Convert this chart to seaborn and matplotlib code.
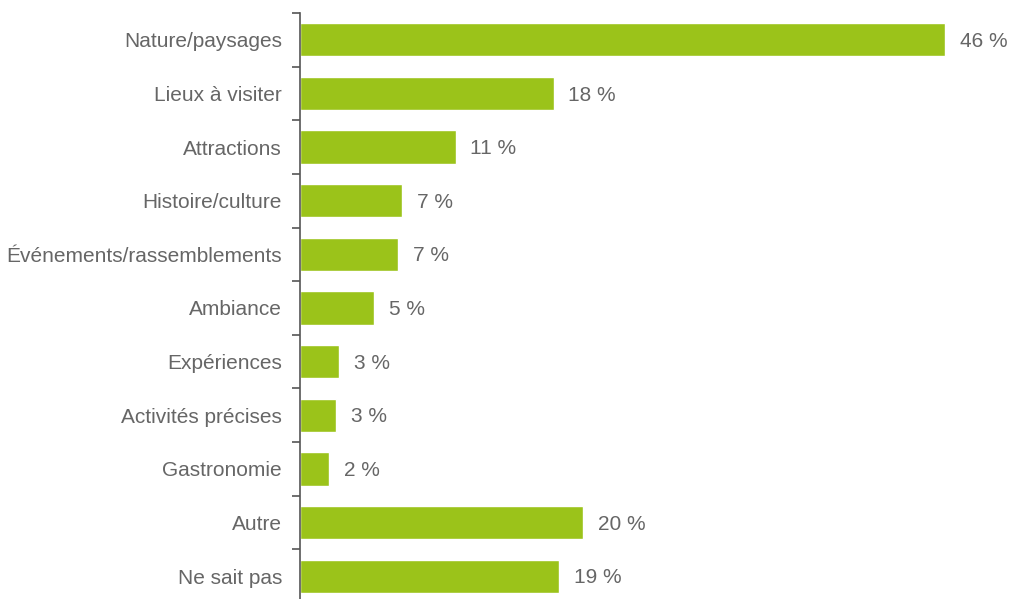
import matplotlib
matplotlib.use("Agg")
import matplotlib.pyplot as plt
import seaborn as sns
import pandas as pd
import numpy as np

categories = ["Nature/paysages", "Lieux à visiter", "Attractions", "Histoire/culture",
              "Événements/rassemblements", "Ambiance", "Expériences", "Activités précises",
              "Gastronomie", "Autre", "Ne sait pas"]
values = [46, 18, 11, 7, 7, 5, 3, 3, 2, 20, 19]
bar_lengths = [46, 18.1, 11.1, 7.3, 7.0, 5.3, 2.8, 2.6, 2.1, 20.2, 18.5]
labels = [f"{v} %" for v in values]

sns.set_theme(style="white")
plt.rcParams['font.family'] = ['Liberation Sans', 'DejaVu Sans']

df = pd.DataFrame({"cat": categories, "val": bar_lengths})

fig = plt.figure(figsize=(10.12, 5.99), dpi=100)
ax = fig.add_axes([300/1012, -4/599, 712/1012, 590/599])
sns.barplot(data=df, y="cat", x="val", color="#9BC31A", saturation=1, width=0.62, ax=ax)

ax.set_xlim(0, 712/14.02)
ax.set_ylim(len(categories) - 0.5, -0.5)
ax.set_xlabel("")
ax.set_ylabel("")
ax.set_xticks([])
for s in ["top", "right", "bottom"]:
    ax.spines[s].set_visible(False)
ax.spines["left"].set_color("#555555")
ax.spines["left"].set_linewidth(1.2)

ax.set_yticks(np.arange(len(categories)))
ax.set_yticklabels(categories, fontsize=15, color="#666666")
ax.tick_params(axis="y", which="major", length=0, pad=13)
ax.set_yticks(np.arange(-0.5, len(categories), 1), minor=True)
ax.tick_params(axis="y", which="minor", length=6, width=1.2, color="#555555", left=True)

for i, (v, lab) in enumerate(zip(bar_lengths, labels)):
    ax.text(v + 1.05, i + 0.03, lab, va="center", ha="left", fontsize=15, color="#666666")

fig.savefig("out.png", dpi=100)
